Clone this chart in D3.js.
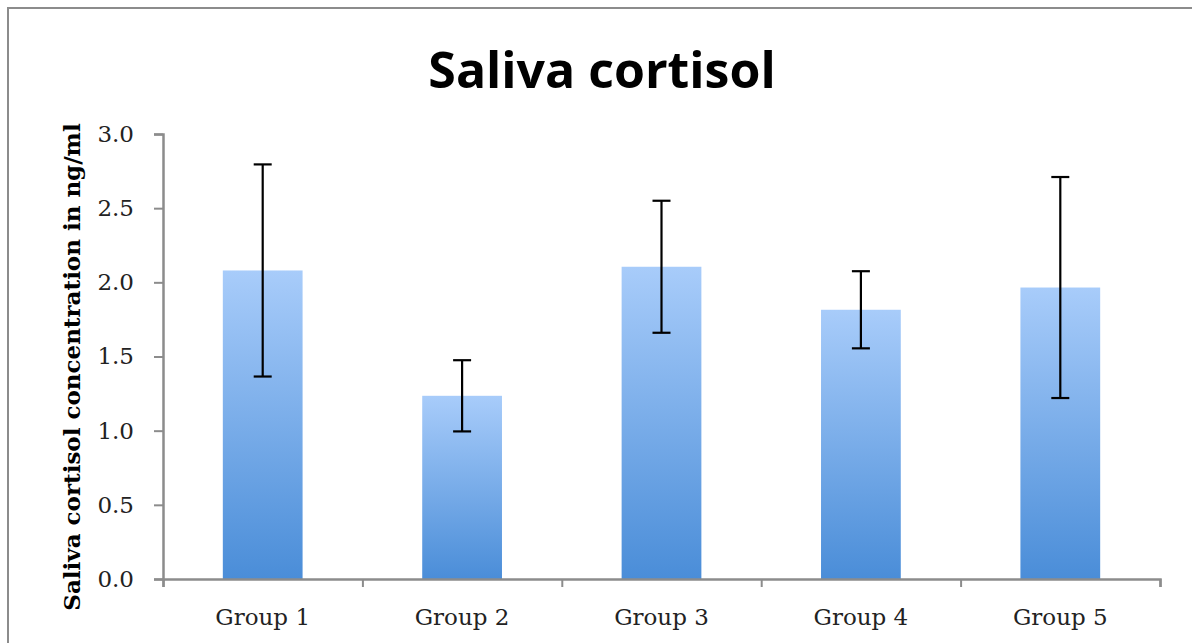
<!DOCTYPE html>
<html>
<head>
<meta charset="utf-8">
<script src="https://cdn.jsdelivr.net/npm/d3@7"></script>
<style>
  body { margin: 0; background: #fff; }
  svg { display: block; }
</style>
</head>
<body>
<svg width="1192" height="643"></svg>
<script>
// chart data
var groups = ["Group 1", "Group 2", "Group 3", "Group 4", "Group 5"];
var means = [2.08, 1.235, 2.105, 1.815, 1.965];
var errors = [0.715, 0.24, 0.445, 0.26, 0.745];
var yTicks = [0.0, 0.5, 1.0, 1.5, 2.0, 2.5, 3.0];

var svg = d3.select("svg"),
    width = +svg.attr("width"),
    height = +svg.attr("height");

var margin = {left: 163, right: 32, top: 134, bottom: 64};

// outer frame of the chart area
svg.append("rect")
    .attr("x", 8).attr("y", 8)
    .attr("width", width + 20).attr("height", height + 20)
    .attr("fill", "#fff")
    .attr("stroke", "#8c8c8c")
    .attr("stroke-width", 2);

var defs = svg.append("defs");
var grad = defs.append("linearGradient")
    .attr("id", "barFill")
    .attr("x1", 0).attr("y1", 0).attr("x2", 0).attr("y2", 1);
grad.append("stop").attr("offset", "0%").attr("stop-color", "#a8ccfa");
grad.append("stop").attr("offset", "100%").attr("stop-color", "#4a8dd8");

var x = d3.scaleBand()
    .domain(groups)
    .range([margin.left, width - margin.right])
    .paddingInner(0.6)
    .paddingOuter(0.3);

var y = d3.scaleLinear()
    .domain([0, 3])
    .range([height - margin.bottom, margin.top]);

// title
svg.append("text")
    .attr("x", 602).attr("y", 88)
    .attr("text-anchor", "middle")
    .style("font-family", "'Open Sans', sans-serif")
    .style("font-weight", "bold")
    .style("font-size", "50px")
    .text("Saliva cortisol");

// bars
svg.append("g")
    .selectAll("rect")
    .data(groups)
    .enter().append("rect")
    .attr("x", function(d) { return x(d); })
    .attr("y", function(d, i) { return y(means[i]); })
    .attr("width", x.bandwidth())
    .attr("height", function(d, i) { return y(0) - y(means[i]); })
    .attr("fill", "url(#barFill)");

// y axis
var yAxis = svg.append("g")
    .attr("transform", "translate(" + margin.left + ",0)")
    .call(d3.axisLeft(y).tickValues(yTicks).tickFormat(d3.format(".1f")).tickSize(9).tickPadding(20));

// x axis, ticks between categories
var xOuter = d3.scaleLinear().domain([0, groups.length]).range([margin.left, width - margin.right]);
var xAxis = svg.append("g")
    .attr("transform", "translate(0," + y(0) + ")")
    .call(d3.axisBottom(xOuter).ticks(groups.length).tickFormat("").tickSize(8));

svg.append("g")
    .selectAll("text")
    .data(groups)
    .enter().append("text")
    .attr("x", function(d) { return x(d) + x.bandwidth() / 2; })
    .attr("y", y(0) + 46)
    .attr("text-anchor", "middle")
    .style("font-family", "'DejaVu Serif', serif")
    .style("font-size", "23px")
    .style("fill", "#222")
    .text(function(d) { return d; });

[yAxis, xAxis].forEach(function(a) {
    a.select(".domain").attr("stroke", "#8c8c8c").attr("stroke-width", 2.5);
    a.selectAll(".tick line").attr("stroke", "#8c8c8c").attr("stroke-width", 2);
    a.selectAll(".tick text")
        .style("font-family", "'DejaVu Serif', serif")
        .style("font-size", "23px")
        .style("fill", "#222");
});

// error bars
var err = svg.append("g").attr("stroke", "#000").attr("stroke-width", 2.2);
groups.forEach(function(g, i) {
    var cx = x(g) + x.bandwidth() / 2;
    err.append("line")
        .attr("x1", cx).attr("x2", cx)
        .attr("y1", y(means[i] + errors[i])).attr("y2", y(means[i] - errors[i]));
    [means[i] + errors[i], means[i] - errors[i]].forEach(function(v) {
        err.append("line")
            .attr("x1", cx - 9).attr("x2", cx + 9)
            .attr("y1", y(v)).attr("y2", y(v));
    });
});

// y axis title
svg.append("text")
    .attr("transform", "translate(80," + 367 + ") rotate(-90)")
    .attr("text-anchor", "middle")
    .style("font-family", "'DejaVu Serif', serif")
    .style("font-weight", "bold")
    .style("font-size", "23px")
    .text("Saliva cortisol concentration in ng/ml");
</script>
</body>
</html>
